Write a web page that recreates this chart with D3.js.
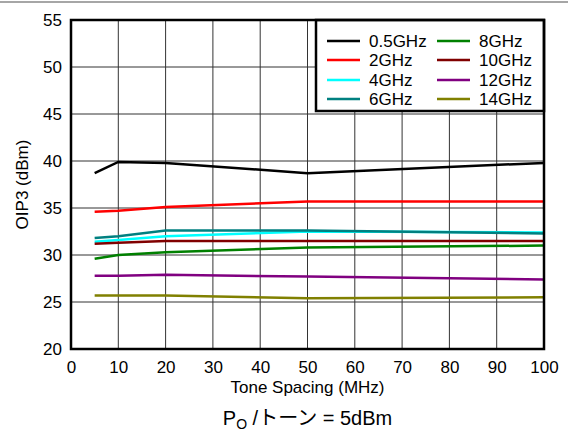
<!DOCTYPE html>
<html><head><meta charset="utf-8">
<script src="https://cdn.jsdelivr.net/npm/d3@7"></script>
<style>body{margin:0;background:#fff}svg{display:block;font-family:"Liberation Sans",Arial,sans-serif}</style>
</head><body>
<script>
const spacing = [5, 10, 20, 50, 100];
const seriesNames = ["0.5GHz","2GHz","4GHz","6GHz","8GHz","10GHz","12GHz","14GHz"];
const colors = ["#000000","#ff0000","#00ffff","#008080","#008000","#800000","#800080","#808000"];
const v05 = [38.7, 39.9, 39.8, 38.7, 39.8];
const v2  = [34.6, 34.7, 35.1, 35.7, 35.7];
const v4  = [31.4, 31.6, 32.0, 32.5, 32.4];
const v6  = [31.8, 32.0, 32.6, 32.6, 32.3];
const v8  = [29.6, 30.0, 30.3, 30.8, 31.0];
const v10 = [31.2, 31.3, 31.5, 31.5, 31.5];
const v12 = [27.8, 27.8, 27.9, 27.7, 27.4];
const v14 = [25.7, 25.7, 25.7, 25.4, 25.5];
const values = [v05, v2, v4, v6, v8, v10, v12, v14];
const xTicks = [0,10,20,30,40,50,60,70,80,90,100];
const yTicks = [20,25,30,35,40,45,50,55];

const W = 568, H = 431;
const m = {l:71, r:544, t:20, b:349};
const svg = d3.select("body").append("svg").attr("width", W).attr("height", H);
const x = d3.scaleLinear().domain([0,100]).range([m.l, m.r]);
const y = d3.scaleLinear().domain([20,55]).range([m.b, m.t]);

// top separator line
svg.append("line").attr("x1",0).attr("x2",W).attr("y1",2).attr("y2",2).attr("stroke","#888").attr("stroke-width",1.5);

// grid
svg.append("g").selectAll("line").data(xTicks.slice(1,-1)).join("line")
  .attr("x1",d=>x(d)).attr("x2",d=>x(d)).attr("y1",m.t).attr("y2",m.b)
  .attr("stroke","#333").attr("stroke-width",1);
svg.append("g").selectAll("line").data(yTicks.slice(1,-1)).join("line")
  .attr("x1",m.l).attr("x2",m.r).attr("y1",d=>y(d)).attr("y2",d=>y(d))
  .attr("stroke","#333").attr("stroke-width",1);

// axes with labels
const xAxis = svg.append("g").attr("transform",`translate(0,${m.b})`)
  .call(d3.axisBottom(x).tickValues(xTicks).tickSize(0).tickPadding(12));
const yAxis = svg.append("g").attr("transform",`translate(${m.l},0)`)
  .call(d3.axisLeft(y).tickValues(yTicks).tickSize(0).tickPadding(9));
[xAxis,yAxis].forEach(a=>{a.select(".domain").remove(); a.selectAll("text").attr("font-size",17).attr("fill","#000").attr("font-family","Liberation Sans, Arial, sans-serif");});

// lines
const line = d3.line().x((d,i)=>x(spacing[i])).y(d=>y(d));
svg.append("g").selectAll("path").data(values).join("path")
  .attr("d", d=>line(d)).attr("fill","none")
  .attr("stroke",(d,i)=>colors[i]).attr("stroke-width",2.5);

// legend
const lg = svg.append("g");
lg.append("rect").attr("x",316).attr("y",m.t).attr("width",m.r-316).attr("height",91)
  .attr("fill","#fff").attr("stroke","#000").attr("stroke-width",2.5);
const rowY = [41, 60, 80, 99];
seriesNames.forEach((n,i)=>{
  const col = Math.floor(i/4), row = i%4;
  const lx = col ? 437 : 327;
  lg.append("line").attr("x1",lx).attr("x2",lx+33).attr("y1",rowY[row]).attr("y2",rowY[row])
    .attr("stroke",colors[i]).attr("stroke-width",2.5);
  lg.append("text").attr("x",lx+42).attr("y",rowY[row]).attr("dy","0.35em")
    .attr("font-size",17).text(n);
});

// frame
svg.append("rect").attr("x",m.l).attr("y",m.t).attr("width",m.r-m.l).attr("height",m.b-m.t)
  .attr("fill","none").attr("stroke","#000").attr("stroke-width",2.5);

// titles
svg.append("text").attr("x",(m.l+m.r)/2).attr("y",393).attr("text-anchor","middle")
  .attr("font-size",17).text("Tone Spacing (MHz)");
svg.append("text").attr("transform",`translate(28,${(m.t+m.b)/2}) rotate(-90)`).attr("text-anchor","middle")
  .attr("font-size",17).text("OIP3 (dBm)");
const cap = svg.append("text").attr("x",(m.l+m.r)/2).attr("y",425).attr("text-anchor","middle")
  .attr("font-size",20).attr("font-family","Liberation Sans, 'Noto Sans CJK JP', sans-serif");
cap.append("tspan").text("P");
cap.append("tspan").attr("font-size",14).attr("dy",4).text("O");
cap.append("tspan").attr("dy",-4).text(" /トーン = 5dBm");
</script>
</body></html>
